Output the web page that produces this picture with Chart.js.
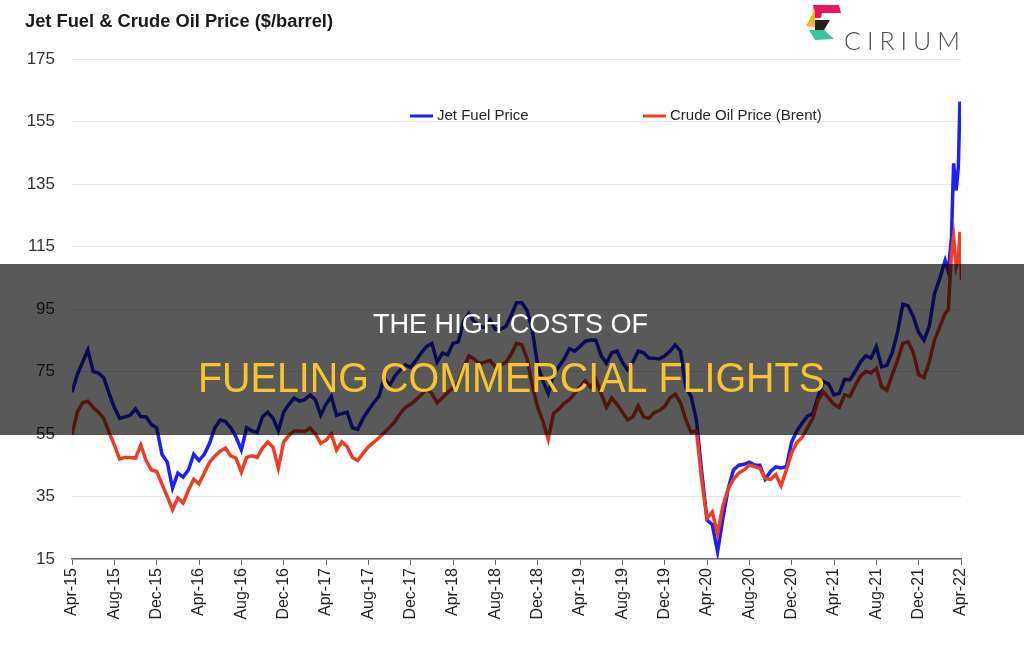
<!DOCTYPE html>
<html>
<head>
<meta charset="utf-8">
<script src="https://cdn.jsdelivr.net/npm/chart.js@4.4.1/dist/chart.umd.min.js"></script>
<style>
    html, body { margin: 0; padding: 0; background: #fff; }
    #wrap { width: 1024px; height: 659px; }
</style>
</head>
<body>
<div id="wrap"><canvas id="chartarea" width="1024" height="659"></canvas></div>
<script>
// x axis labels, one every 4 months
var tickLabels = ['Apr-15', 'Aug-15', 'Dec-15', 'Apr-16', 'Aug-16', 'Dec-16', 'Apr-17', 'Aug-17',
    'Dec-17', 'Apr-18', 'Aug-18', 'Dec-18', 'Apr-19', 'Aug-19', 'Dec-19', 'Apr-20', 'Aug-20',
    'Dec-20', 'Apr-21', 'Aug-21', 'Dec-21', 'Apr-22'];

// sample dates in months since Apr-15: twice a month, closer together in Mar/Apr-22
var months = [];
for (var m = 0; m <= 82.5; m += 0.5) months.push(m);
months.push(82.8, 83.1, 83.3, 83.55, 83.75, 83.9, 84.05);

// $/barrel
var jetFuel = [
    68.4, 74, 78, 81.9, 75, 74.5, 73, 68, 63.5, 60,
    60.5, 61, 63, 60.5, 60.5, 58, 57, 48.5, 46, 37.7,
    42.5, 41.2, 43.5, 48.5, 46.5, 48.5, 52, 57, 59.5, 59,
    57, 54, 49.9, 57, 56, 55.5, 60.5, 62, 60, 56,
    62, 64.5, 66.5, 65.5, 66, 67.5, 65.9, 61, 64.5, 67,
    61, 61.5, 62, 57, 56.5, 60, 62.5, 65, 67, 73,
    70.5, 73.5, 75.5, 77.1, 76.3, 78.5, 81, 83, 84, 78,
    80.9, 80.3, 84, 84.5, 91, 93.5, 91, 89.5, 89, 91.5,
    88.5, 88.5, 89.5, 93, 97, 97, 94.5, 88, 77, 72,
    68, 74, 76.5, 79, 82.3, 81.5, 83, 84.7, 85.1, 85,
    80, 77.6, 81, 81.5, 78, 75.5, 78, 81.5, 81, 79.3,
    79.2, 79, 80, 81.5, 83.5, 81.5, 70, 67, 59.5, 43,
    27.5, 26, 17.3, 28, 37.5, 43.5, 45, 45.3, 46, 45.1,
    45, 40.5, 43, 44.5, 44.1, 44.5, 52.5, 56, 58.5, 60.8,
    61.5, 67, 71.8, 71, 67.5, 68, 72.5, 72.3, 75, 78,
    80, 79.3, 82.9, 76.5, 77, 81, 87.5, 96.5, 96, 92.5,
    87.5, 85, 89.5, 100, 104.8, 110.5,
    107, 118, 141.6, 133, 140.5, 161.3, 158
];

var crudeOil = [
    54.7, 62, 65, 65.5, 63.5, 62, 60, 55.5, 51.5, 47,
    47.5, 47.5, 47.3, 51.5, 46.5, 43.5, 43, 39, 35, 30.8,
    34.5, 32.9, 37, 40.5, 39, 42.5, 46, 48, 49.5, 50.5,
    48, 47.3, 42.8, 47.5, 48, 47.5, 50.5, 52.4, 50.8, 44.1,
    52.5, 54.5, 56, 56, 55.8, 56.9, 55, 52, 53, 55,
    49.9, 52.5, 51, 47.5, 46.5, 48.8, 50.9, 52.3, 53.8, 55.4,
    57.1, 58.9, 61.5, 63.5, 64.5, 66, 67.5, 69.3, 68, 65,
    66.6, 68.3, 69.8, 71.5, 76, 80, 79, 77.5, 78, 78.5,
    76.5, 77, 78, 80.5, 84, 83.5, 79, 70.5, 63.5, 59,
    53.3, 61.6, 63, 64.8, 66, 68, 70.1, 72, 70, 72.5,
    68, 63.5, 66.5, 64.5, 62, 59.5, 60.5, 64, 60.5, 60,
    61.8, 62.5, 63.8, 66.5, 67.8, 65, 59.5, 55.5, 56, 40.3,
    28, 30, 23, 32, 37.5, 40.5, 42.5, 43.5, 45, 44.6,
    44, 40.8, 40.5, 42, 38.5, 43.5, 49, 52.3, 54, 57,
    60, 65.9, 68.5, 66.5, 64.5, 63.5, 67.5, 67, 70.5, 73.5,
    75, 74.6, 76, 70.1, 69, 74, 78.5, 84, 84.5, 81,
    74, 73, 78, 85.1, 89.3, 93.6,
    94.7, 112.8, 118.1, 108.5, 110.7, 119.7, 104.3
];

var JET_BLUE = '#1c20f2';
var CRUDE_RED = '#ef3d25';

function toPoints(values) {
    return values.map(function (v, i) { return { x: months[i], y: v }; });
}

// draw text squeezed/stretched to a given width
function fitText(ctx, text, x, y, width) {
    var w = ctx.measureText(text).width;
    ctx.save();
    ctx.translate(x, y);
    ctx.scale(width / w, 1);
    ctx.fillText(text, 0, 0);
    ctx.restore();
}

// title, legend, logo and the dark banner over the middle
var decorations = {
    id: 'decorations',
    afterDraw: function (chart) {
        var ctx = chart.ctx;
        ctx.save();
        ctx.textBaseline = 'alphabetic';
        ctx.textAlign = 'left';

        // title
        ctx.fillStyle = '#1a1a1a';
        ctx.font = 'bold 18px "Liberation Sans", Arial, sans-serif';
        fitText(ctx, 'Jet Fuel & Crude Oil Price ($/barrel)', 25, 27, 308);

        // legend
        var items = [
            { ds: chart.data.datasets[1], x: 410 },
            { ds: chart.data.datasets[0], x: 643 }
        ];
        ctx.font = '15px "Liberation Sans", Arial, sans-serif';
        items.forEach(function (it) {
            ctx.strokeStyle = it.ds.borderColor;
            ctx.lineWidth = 3;
            ctx.beginPath();
            ctx.moveTo(it.x, 116);
            ctx.lineTo(it.x + 23, 116);
            ctx.stroke();
            ctx.fillStyle = '#262626';
            ctx.textBaseline = 'middle';
            ctx.fillText(it.ds.label, it.x + 27, 116);
        });

        // logo
        ctx.fillStyle = '#e8175d';
        ctx.beginPath();
        ctx.moveTo(813, 5); ctx.lineTo(839, 5); ctx.lineTo(841, 13);
        ctx.lineTo(822, 13); ctx.lineTo(821, 18); ctx.lineTo(815, 18);
        ctx.closePath(); ctx.fill();
        ctx.fillStyle = '#f5b51a';
        ctx.beginPath();
        ctx.moveTo(815, 9); ctx.lineTo(815, 27); ctx.lineTo(806, 26);
        ctx.closePath(); ctx.fill();
        ctx.fillStyle = '#232323';
        ctx.beginPath();
        ctx.moveTo(815, 20); ctx.lineTo(830, 20); ctx.lineTo(824, 30); ctx.lineTo(815, 30);
        ctx.closePath(); ctx.fill();
        ctx.fillStyle = '#3cc29c';
        ctx.beginPath();
        ctx.moveTo(809, 30); ctx.lineTo(824, 30); ctx.lineTo(834, 39); ctx.lineTo(815, 40);
        ctx.closePath(); ctx.fill();

        ctx.fillStyle = '#4d4d4d';
        ctx.textBaseline = 'alphabetic';
        ctx.font = '300 25px Lato, "Open Sans", sans-serif';
        var letters = 'CIRIUM'.split('');
        var lx = 844;
        letters.forEach(function (ch) {
            ctx.fillText(ch, lx, 50);
            lx += ctx.measureText(ch).width + 6;
        });

        // banner
        ctx.fillStyle = 'rgba(0, 0, 0, 0.65)';
        ctx.fillRect(0, 264, chart.width, 171);

        ctx.fillStyle = '#ffffff';
        ctx.font = '28px "Liberation Sans", Arial, sans-serif';
        fitText(ctx, 'THE HIGH COSTS OF', 373, 333, 275);

        ctx.fillStyle = '#f8c52c';
        ctx.font = '42px "Liberation Sans", Arial, sans-serif';
        fitText(ctx, 'FUELING COMMERCIAL FLIGHTS', 198, 392, 627);

        ctx.restore();
    }
};

var ctx = document.getElementById('chartarea');

new Chart(ctx, {
    type: 'line',
    data: {
        datasets: [
            {
                label: 'Crude Oil Price (Brent)',
                data: toPoints(crudeOil),
                borderColor: CRUDE_RED,
                borderWidth: 3.5,
                pointRadius: 0,
                tension: 0
            },
            {
                label: 'Jet Fuel Price',
                data: toPoints(jetFuel),
                borderColor: JET_BLUE,
                borderWidth: 3.5,
                pointRadius: 0,
                tension: 0
            }
        ]
    },
    options: {
        animation: false,
        responsive: false,
        layout: { padding: { left: 0, right: 63, top: 59, bottom: 0 } },
        plugins: {
            legend: { display: false },
            tooltip: { enabled: false }
        },
        scales: {
            x: {
                type: 'linear',
                min: 0,
                max: 84,
                afterFit: function (s) { s.height = 100; },
                afterBuildTicks: function (s) {
                    s.ticks = tickLabels.map(function (l, i) { return { value: i * 4 }; });
                },
                ticks: {
                    autoSkip: false,
                    maxRotation: 90,
                    minRotation: 90,
                    padding: 3,
                    color: '#1f1f1f',
                    font: { family: '"Liberation Sans", Arial, sans-serif', size: 16 },
                    callback: function (v) { return tickLabels[Math.round(v / 4)]; }
                },
                grid: { drawOnChartArea: false, tickLength: 6, color: '#666' },
                border: { color: '#666', width: 1.5 }
            },
            y: {
                min: 15,
                max: 175,
                afterFit: function (s) { s.width = 72; },
                ticks: {
                    stepSize: 20,
                    padding: 17,
                    color: '#333',
                    font: { family: '"Liberation Sans", Arial, sans-serif', size: 17 }
                },
                grid: { color: '#e6e6e6', drawTicks: false },
                border: { display: false }
            }
        }
    },
    plugins: [decorations]
});
</script>
</body>
</html>
